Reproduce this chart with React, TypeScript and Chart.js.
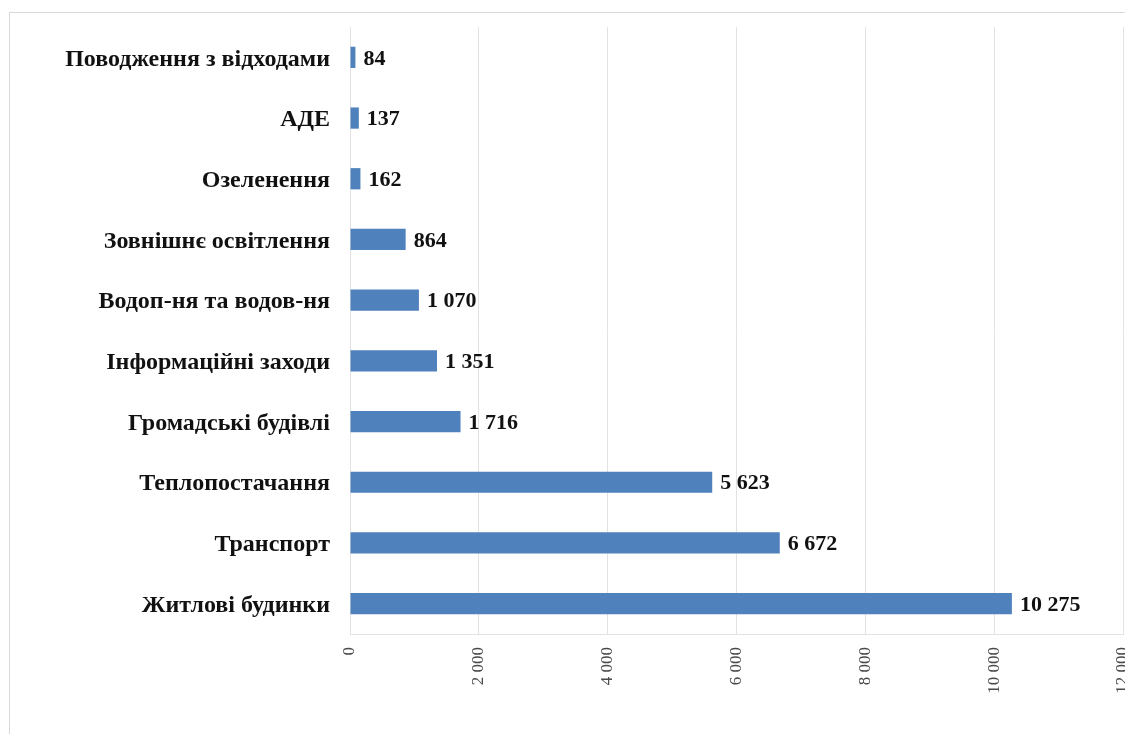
import React, { useEffect, useRef } from "react";
import { Chart, registerables } from "chart.js";

Chart.register(...registerables);

const categories = [
  "Поводження з відходами",
  "АДЕ",
  "Озеленення",
  "Зовнішнє освітлення",
  "Водоп-ня та водов-ня",
  "Інформаційні заходи",
  "Громадські будівлі",
  "Теплопостачання",
  "Транспорт",
  "Житлові будинки",
];

const values = [84, 137, 162, 864, 1070, 1351, 1716, 5623, 6672, 10275];

const xMin = 0;
const xMax = 12000;
const xStep = 2000;

const fmt = (v: number) => String(v).replace(/\B(?=(\d{3})+(?!\d))/g, " ");

const valueLabels = {
  id: "valueLabels",
  afterDatasetsDraw(chart: any) {
    const ctx = chart.ctx;
    const meta = chart.getDatasetMeta(0);
    ctx.save();
    ctx.font = "bold 22px 'Liberation Serif', serif";
    ctx.fillStyle = "#111111";
    ctx.textAlign = "left";
    ctx.textBaseline = "middle";
    meta.data.forEach((bar: any, i: number) => {
      ctx.fillText(fmt(values[i]), bar.x + 8, bar.y + 1.5);
    });
    ctx.restore();
  },
};

export default function App() {
  const ref = useRef<HTMLCanvasElement>(null);

  useEffect(() => {
    if (!ref.current) return;
    const chart = new Chart(ref.current, {
      type: "bar",
      data: {
        labels: categories,
        datasets: [
          {
            data: values,
            backgroundColor: "#4f81bd",
            borderWidth: 0,
            barPercentage: 0.35,
            categoryPercentage: 1,
          },
        ],
      },
      options: {
        indexAxis: "y",
        responsive: false,
        animation: false,
        layout: { padding: { top: 27, right: 2, left: 0, bottom: 0 } },
        plugins: {
          legend: { display: false },
          tooltip: { enabled: false },
        },
        scales: {
          x: {
            min: xMin,
            max: xMax,
            grid: { color: "#e3e3e3", drawTicks: false },
            border: { color: "#e3e3e3" },
            ticks: {
              stepSize: xStep,
              minRotation: 90,
              maxRotation: 90,
              padding: 13,
              color: "#4a4a4a",
              font: { family: "'Liberation Serif', serif", size: 17 },
              callback: (v: any) => fmt(Number(v)),
            },
            afterFit: (s: any) => {
              s.height = 100;
              s.paddingLeft = 0;
              s.paddingRight = 0;
            },
          },
          y: {
            grid: { display: false, drawTicks: false },
            border: { color: "#e3e3e3" },
            ticks: {
              padding: 20,
              labelOffset: 2,
              color: "#111111",
              font: { family: "'Liberation Serif', serif", size: 24, weight: "bold" },
            },
            afterFit: (s: any) => {
              s.width = 350;
              s.paddingTop = 0;
              s.paddingBottom = 0;
            },
          },
        },
      },
      plugins: [valueLabels],
    });
    return () => chart.destroy();
  }, []);

  return (
    <div style={{ position: "fixed", left: 0, top: 0, width: 1125, height: 734, overflow: "hidden", background: "#fff" }}>
      <div
        style={{
          position: "absolute",
          left: 9,
          top: 12,
          width: 1300,
          height: 900,
          border: "1px solid #d9d9d9",
          pointerEvents: "none",
        }}
      />
      <canvas ref={ref} width={1125} height={734} style={{ position: "absolute", left: 0, top: 0 }} />
    </div>
  );
}
